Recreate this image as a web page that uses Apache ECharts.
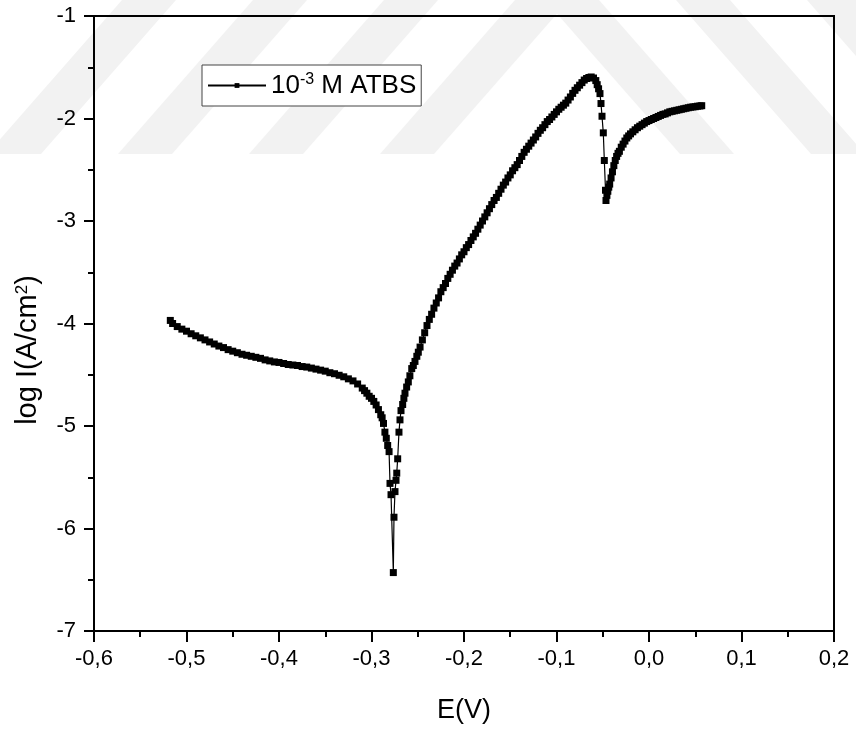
<!DOCTYPE html>
<html>
<head>
<meta charset="utf-8">
<script src="https://cdn.jsdelivr.net/npm/echarts@6/dist/echarts.min.js"></script>
<style>
  html, body { margin: 0; padding: 0; background: #ffffff; }
  #chart { width: 856px; height: 731px; }
</style>
</head>
<body>
<div id="chart"></div>
<script>
// ---- Data ----
const seriesName = '10-3 M ATBS';

const xTicks = [-0.6, -0.5, -0.4, -0.3, -0.2, -0.1, 0.0, 0.1, 0.2];
const yTicks = [-7, -6, -5, -4, -3, -2, -1];

// Potential E (V)
const potentialE = [
  -0.5175, -0.5150, -0.5100, -0.5050, -0.5000, -0.4950, -0.4900, -0.4850, -0.4800, -0.4750,
  -0.4700, -0.4650, -0.4600, -0.4550, -0.4500, -0.4450, -0.4400, -0.4350, -0.4300, -0.4250,
  -0.4200, -0.4150, -0.4100, -0.4050, -0.4000, -0.3950, -0.3900, -0.3850, -0.3800, -0.3750,
  -0.3700, -0.3650, -0.3600, -0.3550, -0.3500, -0.3450, -0.3400, -0.3350, -0.3300, -0.3250,
  -0.3200, -0.3150, -0.3100, -0.3075, -0.3050, -0.3025, -0.3000, -0.2975, -0.2950, -0.2925,
  -0.2900, -0.2885, -0.2870, -0.2855, -0.2840, -0.2825, -0.2810, -0.2800, -0.2789, -0.2764,
  -0.2757, -0.2746, -0.2735, -0.2727, -0.2717, -0.2703, -0.2692, -0.2681, -0.2663, -0.2650,
  -0.2638, -0.2620, -0.2602, -0.2585, -0.2565, -0.2548, -0.2530, -0.2510, -0.2494, -0.2475,
  -0.2450, -0.2425, -0.2400, -0.2375, -0.2350, -0.2325, -0.2300, -0.2275, -0.2250, -0.2225,
  -0.2200, -0.2175, -0.2150, -0.2125, -0.2100, -0.2075, -0.2050, -0.2025, -0.2000, -0.1975,
  -0.1950, -0.1925, -0.1900, -0.1875, -0.1850, -0.1825, -0.1800, -0.1775, -0.1750, -0.1725,
  -0.1700, -0.1675, -0.1650, -0.1625, -0.1600, -0.1575, -0.1550, -0.1525, -0.1500, -0.1475,
  -0.1450, -0.1425, -0.1400, -0.1375, -0.1350, -0.1325, -0.1300, -0.1275, -0.1250, -0.1225,
  -0.1200, -0.1175, -0.1150, -0.1125, -0.1100, -0.1075, -0.1050, -0.1025, -0.1000, -0.0975,
  -0.0950, -0.0925, -0.0900, -0.0875, -0.0850, -0.0825, -0.0800, -0.0775, -0.0750, -0.0725,
  -0.0700, -0.0675, -0.0650, -0.0625, -0.0600, -0.0575, -0.0560, -0.0545, -0.0530, -0.0519,
  -0.0508, -0.0494, -0.0483, -0.0470, -0.0465, -0.0455, -0.0445, -0.0435, -0.0425, -0.0410,
  -0.0395, -0.0380, -0.0365, -0.0350, -0.0335, -0.0320, -0.0300, -0.0280, -0.0260, -0.0240,
  -0.0220, -0.0200, -0.0175, -0.0150, -0.0125, -0.0100, -0.0075, -0.0050, -0.0025, 0.0000,
   0.0025,  0.0050,  0.0075,  0.0100,  0.0125,  0.0150,  0.0175,  0.0200,  0.0225,  0.0250,
   0.0275,  0.0300,  0.0325,  0.0350,  0.0375,  0.0400,  0.0425,  0.0450,  0.0475,  0.0500,
   0.0525,  0.0550,  0.0570
];

// log I (A/cm2)
const logCurrent = [
  -3.97, -4.00, -4.03, -4.055, -4.075, -4.10, -4.12, -4.14, -4.16, -4.18,
  -4.20, -4.22, -4.235, -4.255, -4.27, -4.285, -4.30, -4.31, -4.32, -4.33,
  -4.34, -4.355, -4.365, -4.375, -4.38, -4.39, -4.40, -4.405, -4.41, -4.42,
  -4.425, -4.435, -4.445, -4.455, -4.465, -4.48, -4.49, -4.505, -4.52, -4.54,
  -4.56, -4.59, -4.63, -4.655, -4.68, -4.71, -4.73, -4.76, -4.795, -4.84,
  -4.89, -4.92, -4.975, -5.06, -5.12, -5.19, -5.25, -5.56, -5.67, -6.43,
  -5.89, -5.64, -5.53, -5.46, -5.32, -5.06, -4.94, -4.85, -4.79, -4.73,
  -4.68, -4.62, -4.57, -4.51, -4.44, -4.41, -4.37, -4.32, -4.28, -4.23,
  -4.16, -4.09, -4.02, -3.96, -3.91, -3.85, -3.80, -3.75, -3.69, -3.65,
  -3.61, -3.56, -3.52, -3.48, -3.44, -3.41, -3.37, -3.33, -3.30, -3.26,
  -3.23, -3.19, -3.155, -3.12, -3.08, -3.04, -3.00, -2.96, -2.92, -2.88,
  -2.84, -2.80, -2.77, -2.73, -2.69, -2.65, -2.62, -2.58, -2.55, -2.51,
  -2.48, -2.45, -2.41, -2.37, -2.33, -2.30, -2.27, -2.24, -2.21, -2.18,
  -2.145, -2.115, -2.09, -2.06, -2.03, -2.01, -1.985, -1.96, -1.935, -1.91,
  -1.89, -1.87, -1.85, -1.82, -1.79, -1.755, -1.725, -1.70, -1.675, -1.65,
  -1.625, -1.61, -1.60, -1.595, -1.605, -1.63, -1.67, -1.71, -1.757, -1.854,
  -1.978, -2.14, -2.41, -2.70, -2.80, -2.75, -2.71, -2.67, -2.64, -2.58,
  -2.52, -2.46, -2.41, -2.37, -2.34, -2.32, -2.28, -2.25, -2.22, -2.19,
  -2.17, -2.15, -2.13, -2.11, -2.09, -2.075, -2.06, -2.045, -2.03, -2.02,
  -2.01, -2.00, -1.99, -1.98, -1.97, -1.96, -1.955, -1.945, -1.935, -1.93,
  -1.925, -1.92, -1.915, -1.91, -1.905, -1.90, -1.895, -1.89, -1.887, -1.885,
  -1.88, -1.878, -1.875
];

const seriesData = potentialE.map((e, i) => [e, logCurrent[i]]);

const chart = echarts.init(document.getElementById('chart'), null, { renderer: 'canvas' });
const FONT = '"Liberation Sans", Arial, Helvetica, sans-serif';

// faint background watermark stripes (decoration of the scanned page)
function band(points) {
  return {
    type: 'polygon', z: -10, silent: true,
    shape: { points: points },
    style: { fill: '#f2f2f2' }
  };
}

const option = {
  animation: false,
  backgroundColor: '#ffffff',
  textStyle: { fontFamily: FONT, color: '#000' },
  graphic: [
    band([[-13, 154], [41, 154], [176, 0], [122, 0]]),
    band([[118, 154], [172, 154], [307, 0], [253, 0]]),
    band([[249, 154], [303, 154], [438, 0], [384, 0]]),
    band([[380, 154], [434, 154], [569, 0], [515, 0]]),
    band([[545, 0], [599, 0], [734, 154], [680, 154]]),
    band([[676, 0], [730, 0], [865, 154], [811, 154]]),
    band([[807, 0], [861, 0], [996, 154], [942, 154]]),
    {
      type: 'text', z: 10,
      x: 28, y: 350, rotation: Math.PI / 2,
      style: {
        text: 'log I(A/cm{sup|2})',
        fontSize: 29, fontFamily: FONT, fill: '#000',
        align: 'center', verticalAlign: 'middle',
        rich: { sup: { fontSize: 17, fontFamily: FONT, verticalAlign: 'top', fill: '#000' } }
      }
    }
  ],
  grid: {
    left: 94, right: 22, top: 16, bottom: 100,
    show: true, borderColor: '#000', borderWidth: 2, backgroundColor: 'transparent'
  },
  legend: {
    show: true,
    left: 202, top: 65,
    orient: 'horizontal',
    padding: [7, 5, 7, 5],
    itemWidth: 58, itemHeight: 6, itemGap: 5,
    borderColor: '#444', borderWidth: 1,
    backgroundColor: '#fff',
    data: [seriesName],
    formatter: () => '10{sup|-3} M ATBS',
    textStyle: {
      fontFamily: FONT, fontSize: 26, color: '#000',
      lineHeight: 27,
      rich: { sup: { fontSize: 16, fontFamily: FONT, color: '#000', verticalAlign: 'top', lineHeight: 27 } }
    }
  },
  xAxis: {
    type: 'value',
    min: -0.6, max: 0.2, interval: 0.1,
    name: 'E(V)', nameLocation: 'middle', nameGap: 66,
    nameTextStyle: { fontFamily: FONT, fontSize: 27, color: '#000' },
    axisLine: { onZero: false, lineStyle: { color: '#000', width: 2 } },
    axisTick: { show: true, inside: false, length: 11, lineStyle: { color: '#000', width: 2 } },
    minorTick: { show: true, splitNumber: 2, length: 6, lineStyle: { color: '#000', width: 2 } },
    splitLine: { show: false },
    minorSplitLine: { show: false },
    axisLabel: {
      margin: 17, fontFamily: FONT, fontSize: 22, color: '#000',
      formatter: v => {
        const t = xTicks.find(x => Math.abs(x - v) < 1e-9);
        return (t === undefined ? v : t).toFixed(1).replace('.', ',').replace(/^-0,0$/, '0,0');
      }
    }
  },
  yAxis: {
    type: 'value',
    min: -7, max: -1, interval: 1,
    axisLine: { onZero: false, lineStyle: { color: '#000', width: 2 } },
    axisTick: { show: true, inside: false, length: 10, lineStyle: { color: '#000', width: 2 } },
    minorTick: { show: true, splitNumber: 2, length: 6, lineStyle: { color: '#000', width: 2 } },
    splitLine: { show: false },
    minorSplitLine: { show: false },
    axisLabel: {
      margin: 18, fontFamily: FONT, fontSize: 22, color: '#000',
      formatter: v => String(Math.round(v))
    }
  },
  series: [{
    name: seriesName,
    type: 'line',
    data: seriesData,
    symbol: 'rect',
    symbolSize: 7,
    showSymbol: true,
    showAllSymbol: true,
    lineStyle: { color: '#000', width: 1.2 },
    itemStyle: { color: '#000', borderWidth: 0 },
    emphasis: { disabled: true },
    z: 5
  }]
};

chart.setOption(option);
</script>
</body>
</html>
